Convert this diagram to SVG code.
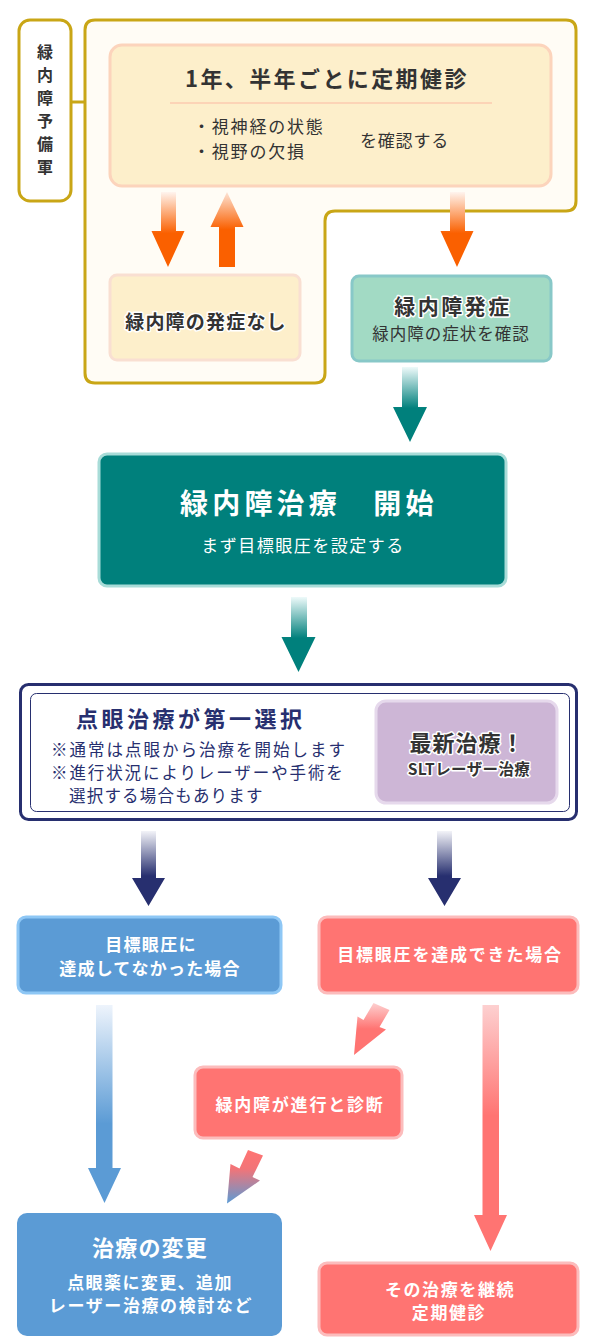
<svg xmlns="http://www.w3.org/2000/svg" width="595" height="1339" viewBox="0 0 595 1339">
<defs>
<style>
text{font-family:"Noto Sans CJK JP","Noto Sans",sans-serif;}
.dk{fill:#333333;}
.b{font-weight:bold;}
.w{fill:#ffffff;}
.nv{fill:#272f6f;}
.mid{text-anchor:middle;}
.halo{stroke:#ffffff;stroke-width:3;paint-order:stroke;stroke-linejoin:round;}
</style>
<linearGradient id="gOrDown" x1="0" y1="0" x2="0" y2="1">
<stop offset="0" stop-color="#fff4ee"/><stop offset="0.55" stop-color="#fa6000"/><stop offset="1" stop-color="#fa6000"/>
</linearGradient>
<linearGradient id="gOrUp" x1="0" y1="0" x2="0" y2="1">
<stop offset="0" stop-color="#fde4d6"/><stop offset="0.5" stop-color="#fa6000"/><stop offset="1" stop-color="#fa6000"/>
</linearGradient>
<linearGradient id="gTeal" x1="0" y1="0" x2="0" y2="1">
<stop offset="0" stop-color="#eefafa"/><stop offset="0.55" stop-color="#00807c"/><stop offset="1" stop-color="#00807c"/>
</linearGradient>
<linearGradient id="gNavy" x1="0" y1="0" x2="0" y2="1">
<stop offset="0" stop-color="#f2f3f8"/><stop offset="0.6" stop-color="#272f6f"/><stop offset="1" stop-color="#272f6f"/>
</linearGradient>
<linearGradient id="gBlue" x1="0" y1="0" x2="0" y2="1">
<stop offset="0" stop-color="#eef4fc"/><stop offset="0.6" stop-color="#5b9bd5"/><stop offset="1" stop-color="#5b9bd5"/>
</linearGradient>
<linearGradient id="gRed" x1="0" y1="0" x2="0" y2="1">
<stop offset="0" stop-color="#fdd0d0"/><stop offset="0.45" stop-color="#ff7472"/><stop offset="1" stop-color="#ff7472"/>
</linearGradient>
<linearGradient id="gRedDiag" x1="0" y1="0" x2="0" y2="1">
<stop offset="0" stop-color="#fdd0d0"/><stop offset="0.5" stop-color="#ff7472"/><stop offset="1" stop-color="#ff7472"/>
</linearGradient>
<linearGradient id="gRedBlue" x1="0" y1="0" x2="0" y2="1">
<stop offset="0" stop-color="#ff7472"/><stop offset="0.35" stop-color="#f27478"/><stop offset="1" stop-color="#5b9bd5"/>
</linearGradient>
</defs>

<g id="prevention-group">
<path d="M95,20 H566 Q576,20 576,30 V201 Q576,211 566,211 H335 Q325,211 325,221 V373 Q325,383 315,383 H95 Q85,383 85,373 V30 Q85,20 95,20 Z" fill="#fffcf5" stroke="#c9a616" stroke-width="3"/>
</g>

<g id="label-glaucoma-reserve">
<rect x="19" y="20" width="52" height="181" rx="11" fill="#ffffff" stroke="#c9a616" stroke-width="3"/>
<text class="dk b mid" font-size="16" x="45" y="58">緑</text>
<text class="dk b mid" font-size="16" x="45" y="81">内</text>
<text class="dk b mid" font-size="16" x="45" y="104">障</text>
<text class="dk b mid" font-size="16" x="45" y="127">予</text>
<text class="dk b mid" font-size="16" x="45" y="150">備</text>
<text class="dk b mid" font-size="16" x="45" y="173">軍</text>
</g>

<g id="checkup">
<rect x="110" y="45" width="441" height="141" rx="12" fill="#fdefcb" stroke="#fcd4bc" stroke-width="3"/>
<text class="dk b" font-size="22" x="185" y="87" letter-spacing="2.4">1年、半年ごとに定期健診</text>
<line x1="170" y1="103" x2="492" y2="103" stroke="#fbcbb0" stroke-width="1.5"/>
<text class="dk" font-size="17" x="193" y="133" letter-spacing="1.8">・視神経の状態</text>
<text class="dk" font-size="17" x="193" y="158" letter-spacing="1.8">・視野の欠損</text>
<text class="dk" font-size="17" x="360" y="147" letter-spacing="0.8">を確認する</text>
</g>

<g id="no-onset">
<rect x="110" y="275" width="190" height="85" rx="7" fill="#fdefcb" stroke="#f9dfd2" stroke-width="3"/>
<text class="dk b mid halo" font-size="19" x="206" y="329" letter-spacing="1.2">緑内障の発症なし</text>
</g>

<g id="onset">
<rect x="352" y="276" width="199" height="85" rx="7" fill="#a2dac4" stroke="#88c8c8" stroke-width="3"/>
<text class="dk b mid halo" font-size="21" x="453" y="314" letter-spacing="2.5">緑内障発症</text>
<text class="dk mid" font-size="16.5" x="451" y="340" letter-spacing="1">緑内障の症状を確認</text>
</g>

<g id="treatment-start">
<rect x="99" y="454" width="407" height="132" rx="8" fill="#00807c" stroke="#a8dcd8" stroke-width="3"/>
<text class="w b" font-size="28" x="180" y="514" letter-spacing="4.2">緑内障治療　開始</text>
<text class="w mid" font-size="17" x="303" y="552" letter-spacing="1.5">まず目標眼圧を設定する</text>
</g>

<g id="eyedrops">
<rect x="20.5" y="684.5" width="556" height="135" rx="8" fill="#ffffff" stroke="#272f6f" stroke-width="3"/>
<rect x="30.5" y="693.5" width="539" height="118" rx="6" fill="#ffffff" stroke="#272f6f" stroke-width="1"/>
<text class="nv b" font-size="22" x="76" y="727" letter-spacing="3.5">点眼治療が第一選択</text>
<text class="nv" font-size="16.5" x="51" y="756" letter-spacing="2">※通常は点眼から治療を開始します</text>
<text class="nv" font-size="16.5" x="51" y="779" letter-spacing="1.9">※進行状況によりレーザーや手術を</text>
<text class="nv" font-size="16.5" x="69" y="802" letter-spacing="1.2">選択する場合もあります</text>
</g>

<g id="slt">
<rect x="376" y="701" width="181" height="102" rx="10" fill="#cdb6d6" stroke="#e6d9ec" stroke-width="3"/>
<text class="dk b mid halo" font-size="22" x="467" y="751" letter-spacing="1">最新治療！</text>
<text class="dk b mid halo" font-size="15.5" x="469" y="775" letter-spacing="0.4">SLTレーザー治療</text>
</g>

<g id="not-achieved">
<rect x="18" y="917" width="263" height="76" rx="8" fill="#5b9bd5" stroke="#8ec7f5" stroke-width="3"/>
<text class="w b mid" font-size="17" x="151" y="951" letter-spacing="1.3">目標眼圧に</text>
<text class="w b mid" font-size="17" x="150" y="975" letter-spacing="1.2">達成してなかった場合</text>
</g>

<g id="achieved">
<rect x="319" y="917" width="259" height="76" rx="8" fill="#ff7472" stroke="#fcbcbc" stroke-width="3"/>
<text class="w b mid" font-size="17" x="450" y="961" letter-spacing="1.8">目標眼圧を達成できた場合</text>
</g>

<g id="progressed">
<rect x="195" y="1067" width="207" height="71" rx="8" fill="#ff7472" stroke="#fcbcbc" stroke-width="3"/>
<text class="w b mid" font-size="17" x="300" y="1111" letter-spacing="1.8">緑内障が進行と診断</text>
</g>

<g id="change-treatment">
<rect x="17" y="1213" width="265" height="123" rx="10" fill="#5b9bd5"/>
<text class="w b mid" font-size="22" x="150" y="1256" letter-spacing="1.2">治療の変更</text>
<text class="w b mid" font-size="17" x="150" y="1289" letter-spacing="1.4">点眼薬に変更、追加</text>
<text class="w b mid" font-size="17" x="151" y="1312" letter-spacing="1.6">レーザー治療の検討など</text>
</g>

<g id="continue">
<rect x="319" y="1263" width="259" height="72" rx="8" fill="#ff7472" stroke="#fcbcbc" stroke-width="3"/>
<text class="w b mid" font-size="17" x="450" y="1296" letter-spacing="1.6">その治療を継続</text>
<text class="w b mid" font-size="17" x="449" y="1319" letter-spacing="1.6">定期健診</text>
</g>

<g id="connectors">
<line x1="71" y1="102" x2="85" y2="102" stroke="#c9a616" stroke-width="3"/>
<polygon points="161,192 176,192 176,231 184.5,231 168,267 151.5,231 161,231" fill="url(#gOrDown)"/>
<polygon points="227,192 243.5,227 235,227 235,267 219,267 219,227 210.5,227" fill="url(#gOrUp)"/>
<polygon points="450,192 465,192 465,231 473.5,231 457,267 440.5,231 450,231" fill="url(#gOrDown)"/>
<polygon points="402,367 418,367 418,407 427,407 410,442 393,407 402,407" fill="url(#gTeal)"/>
<polygon points="291,597 307,597 307,637 315.5,637 298.5,672 281.5,637 291,637" fill="url(#gTeal)"/>
<polygon points="141,831 156,831 156,878 165,878 148.5,906 132,878 141,878" fill="url(#gNavy)"/>
<polygon points="437,831 452,831 452,878 461,878 444.5,906 428,878 437,878" fill="url(#gNavy)"/>
<polygon points="96,1005 112.5,1005 112.5,1168 121,1168 104.5,1203 88,1168 96,1168" fill="url(#gBlue)"/>
<polygon points="482.5,1005 499,1005 499,1215 507,1215 490.5,1251 474,1215 482.5,1215" fill="url(#gRed)"/>
<polygon points="373.5,1003 389.5,1010 379.5,1027 386,1029.5 354,1055 357.5,1016.5 363.5,1020" fill="url(#gRedDiag)"/>
<polygon points="248,1150 263,1155.5 252.5,1177 260,1180.5 227,1203.5 230.5,1164 239.5,1168.5" fill="url(#gRedBlue)"/>
</g>
</svg>
